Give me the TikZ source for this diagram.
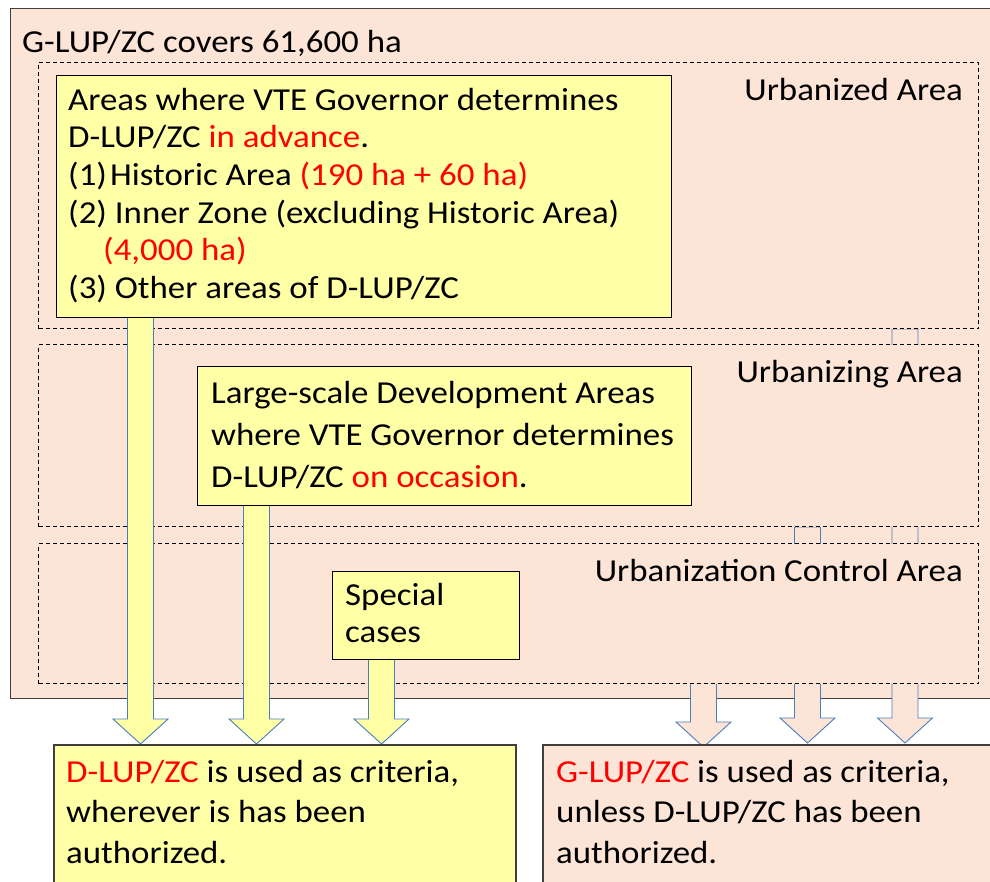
\documentclass[tikz,border=0pt]{standalone}
\usepackage{fontspec}
\setmainfont{Carlito}[FakeStretch=1.09]
\usetikzlibrary{calc}
\definecolor{peach}{HTML}{FCE4D6}
\definecolor{paleyellow}{HTML}{FFFFA6}
\definecolor{arrowblue}{HTML}{4A7EBB}
\definecolor{emph}{HTML}{FF0000}
\definecolor{frame}{HTML}{3F3F3F}
\newcommand\redtxt[1]{\textcolor{emph}{#1}}
% block arrow from a start point (top centre of the shaft) to its tip
\newcommand\blockarrow[3]{%
  \draw[#1] ($(#2)+(-13,0)$) -- ($(#3)+(-13,-25)$) -- ($(#3)+(-27.5,-25)$)
    -- (#3) -- ($(#3)+(27.5,-25)$) -- ($(#3)+(13,-25)$) -- ($(#2)+(13,0)$) -- cycle;}
\pgfdeclarelayer{planframe}
\pgfdeclarelayer{peacharrows}
\pgfdeclarelayer{zones}
\pgfdeclarelayer{yellowarrows}
\pgfsetlayers{planframe,peacharrows,zones,yellowarrows,main}
\begin{document}
\begin{tikzpicture}[x=1pt,y=-1pt,
  box/.style={rectangle, anchor=north west, inner sep=0pt},
  zone/.style={box, draw=black, dash pattern=on 4pt off 3pt, fill=peach, line width=1pt},
  yellowbox/.style={box, draw=black, fill=paleyellow, line width=1.4pt},
  resultbox/.style={box, draw=frame, line width=1.8pt},
  txt/.style={inner sep=0pt, align=left, anchor=north west},
  label/.style={inner sep=0pt, anchor=base east, font=\fontsize{32}{38}\selectfont},
  yarrow/.style={draw=arrowblue, fill=paleyellow, line width=0.9pt},
  parrow/.style={draw=arrowblue, fill=peach, line width=0.9pt}]
\useasboundingbox (0,0) rectangle (990,881);

% whole planning area
\begin{pgfonlayer}{planframe}
\node[box, draw=frame, fill=peach, line width=1.4pt, minimum width=1000pt, minimum height=690pt] (glup) at (10,8) {};
\end{pgfonlayer}
\node[inner sep=0pt, anchor=base west, font=\fontsize{32}{38}\selectfont] (title) at (22,52) {G-LUP/ZC covers 61,600 ha};

% zones
\begin{pgfonlayer}{zones}
\node[zone, minimum width=940pt, minimum height=266pt] (zoneA) at (38,62) {};
\node[zone, minimum width=940pt, minimum height=182pt] (zoneB) at (38,344) {};
\node[zone, minimum width=940pt, minimum height=140pt] (zoneC) at (38,543) {};
\end{pgfonlayer}
\node[label] (lblA) at (963,100) {Urbanized Area};
\node[label] (lblB) at (963,382) {Urbanizing Area};
\node[label] (lblC) at (963,581) {Urbanization Control Area};

% D-LUP/ZC boxes
\node[yellowbox, minimum width=615.5pt, minimum height=242pt] (adv) at (55.5,75) {};
\node[txt, font=\fontsize{32}{37.6}\selectfont] (advtext) at (68,83.7) {%
  \strut Areas where VTE Governor determines\\
  \strut D-LUP/ZC \redtxt{in advance}.\\
  \strut (1)\hspace{0.1em}Historic Area \redtxt{(190 ha + 60 ha)}\\
  \strut (2) Inner Zone (excluding Historic Area)\\
  \strut\hspace*{35pt}\redtxt{(4,000 ha)}\\
  \strut (3) Other areas of D-LUP/ZC};

\node[yellowbox, minimum width=494pt, minimum height=139pt] (occ) at (197,366) {};
\node[txt, font=\fontsize{32}{41.7}\selectfont] (occtext) at (211,374.3) {%
  \strut Large-scale Development Areas\\
  \strut where VTE Governor determines\\
  \strut D-LUP/ZC \redtxt{on occasion}.};

\node[yellowbox, minimum width=187pt, minimum height=88pt] (spec) at (332,571) {};
\node[txt, font=\fontsize{32}{37}\selectfont] (spectext) at (345,579.1) {%
  \strut Special\\
  \strut cases};

% result boxes
\node[resultbox, fill=paleyellow, minimum width=462pt, minimum height=160pt] (res1) at (53,744) {};
\node[resultbox, fill=peach, minimum width=470pt, minimum height=160pt] (res2) at (542,744) {};
\node[txt, font=\fontsize{32}{40.5}\selectfont] (res1text) at (66,753.7) {%
  \strut\redtxt{D-LUP/ZC} is used as criteria,\\
  \strut wherever is has been\\
  \strut authorized.};
\node[txt, font=\fontsize{32}{40.5}\selectfont] (res2text) at (556,753.7) {%
  \strut\redtxt{G-LUP/ZC} is used as criteria,\\
  \strut unless D-LUP/ZC has been\\
  \strut authorized.};

% arrows from the zones into the G-LUP/ZC result (hidden behind the zones)
\coordinate (pA) at ([xshift=867pt]zoneA.south west);
\coordinate (pB) at ([xshift=769.5pt]zoneB.south west);
\coordinate (pC) at ([xshift=665.5pt,yshift=60pt]zoneC.south west);
\coordinate (tP1) at ([xshift=161.5pt,yshift=-3pt]res2.north west);
\coordinate (tP2) at ([xshift=265.5pt,yshift=1pt]res2.north west);
\coordinate (tP3) at ([xshift=363pt,yshift=1pt]res2.north west);
\begin{pgfonlayer}{peacharrows}
\blockarrow{parrow}{pC}{tP1}
\blockarrow{parrow}{pB}{tP2}
\blockarrow{parrow}{pA}{tP3}
\end{pgfonlayer}

% arrows from the D-LUP/ZC boxes into the D-LUP/ZC result
\coordinate (sY1) at ([xshift=85pt,yshift=8pt]adv.south west);
\coordinate (sY2) at ([xshift=59.5pt,yshift=8pt]occ.south west);
\coordinate (sY3) at ([xshift=49.5pt,yshift=8pt]spec.south west);
\coordinate (tY1) at ([xshift=87.5pt]res1.north west);
\coordinate (tY2) at ([xshift=203.5pt]res1.north west);
\coordinate (tY3) at ([xshift=328.5pt]res1.north west);
\begin{pgfonlayer}{yellowarrows}
\blockarrow{yarrow}{sY1}{tY1}
\blockarrow{yarrow}{sY2}{tY2}
\blockarrow{yarrow}{sY3}{tY3}
\end{pgfonlayer}
\end{tikzpicture}
\end{document}
